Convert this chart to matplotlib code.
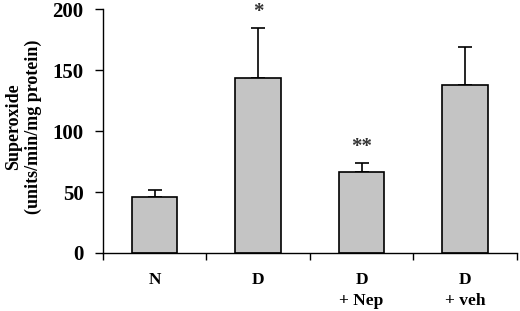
import numpy as np
import matplotlib.pyplot as plt

# Superoxide production per group (mean + upper SEM)
groups = ['N', 'D', 'D\n+ Nep', 'D\n+ veh']
means = [46, 143.5, 66, 138]
errs = [6, 41, 7.5, 30.5]
stars = ['', '*', '**', '']

plt.rcParams['font.family'] = ['Liberation Serif', 'DejaVu Serif']
plt.rcParams['font.weight'] = 'bold'

fig = plt.figure(figsize=(5.2, 3.11), dpi=100)
ax = fig.add_axes([0.198, 0.1865, 0.796, 0.7845])

x = np.arange(len(groups))
ax.bar(x, means, width=0.44, color='#c4c4c4', edgecolor='black', linewidth=1.2, zorder=2)
ax.errorbar(x, means, yerr=[np.zeros(len(errs)), errs], fmt='none', ecolor='black',
            elinewidth=1.2, capsize=5, capthick=1.2, zorder=1)
for xi, m, e, s in zip(x, means, errs, stars):
    if s:
        ax.text(xi, m + e + 5, s, ha='center', va='bottom', fontsize=15, color='#333333')

ax.set_xlim(-0.5, 3.5)
ax.set_ylim(0, 200)
ax.set_yticks([0, 50, 100, 150, 200])
ax.set_xticks(np.arange(-0.5, 4, 1))
ax.set_xticklabels([])
ax.set_xticks(x, minor=True)
ax.set_xticklabels(groups, minor=True, fontsize=12.5, fontweight='bold', linespacing=1.35)
ax.tick_params(axis='x', which='minor', length=0, pad=14)
ax.tick_params(axis='x', which='major', length=5, width=1)
ax.tick_params(axis='y', length=6, width=1, labelsize=15, pad=8)

ax.spines['top'].set_visible(False)
ax.spines['right'].set_visible(False)
ax.spines['left'].set_linewidth(1)
ax.spines['bottom'].set_linewidth(1)

ax.set_ylabel('Superoxide\n(units/min/mg protein)', fontsize=13, fontweight='bold',
              linespacing=1.2)
ax.yaxis.set_label_coords(-0.147, 0.518)

plt.savefig('out.png', dpi=100)
